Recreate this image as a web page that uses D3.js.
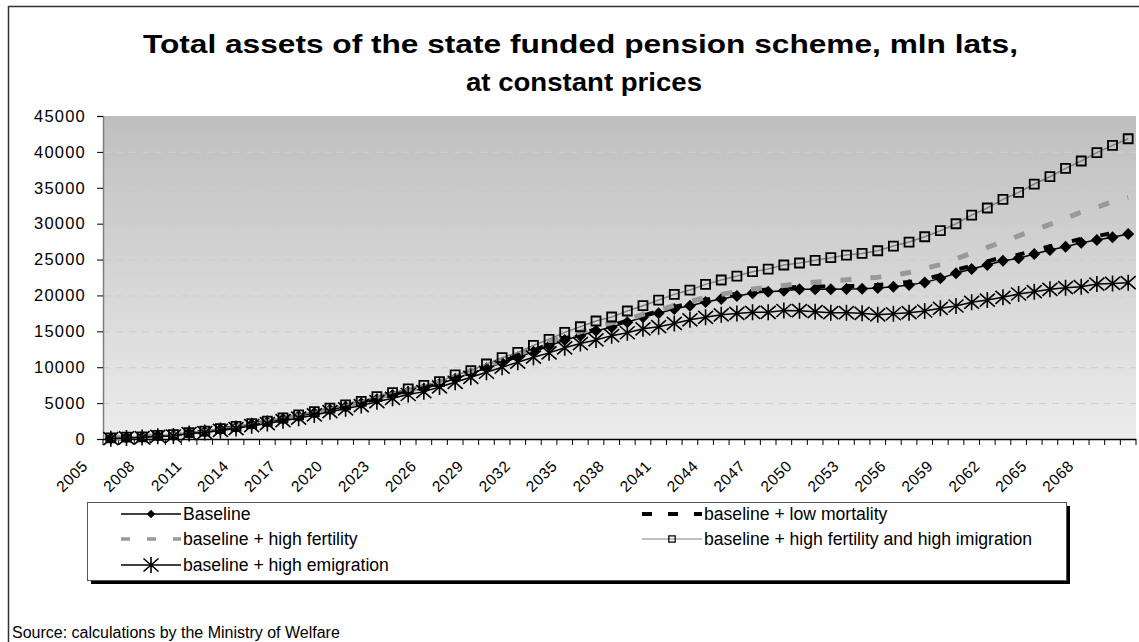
<!DOCTYPE html>
<html>
<head>
<meta charset="utf-8">
<script src="https://d3js.org/d3.v7.min.js"></script>
<style>
  body { margin: 0; background: #fff; }
  svg text { font-family: "Liberation Sans", Arial, sans-serif; fill: #000; }
</style>
</head>
<body>
<div id="chart"></div>
<script>
// anos 2005..2070
var years = d3.range(2005, 2071);
var yTicks = d3.range(0, 45001, 5000);

var baseline = [100, 200, 250, 450, 500, 850, 1020, 1350, 1630, 2040, 2370, 2790, 3160, 3620, 4090, 4500,
  4970, 5550, 6130, 6590, 7050, 7700, 8400, 9150, 9850, 10630, 11380, 12160, 12950, 13800, 14390, 15090,
  15560, 16260, 16950, 17510, 18110, 18570, 19080, 19500, 19920, 20290, 20500, 20660, 20850, 20850, 20880,
  20900, 20950, 21050, 21220, 21450, 21820, 22380, 23080, 23680, 24240, 24840, 25170, 25770, 26330, 26790,
  27350, 27720, 28100, 28560];
var lowMortality = [100, 200, 260, 460, 510, 860, 1040, 1370, 1660, 2070, 2410, 2830, 3210, 3680, 4160, 4580,
  5060, 5650, 6240, 6710, 7180, 7840, 8550, 9310, 10020, 10810, 11570, 12360, 13160, 14020, 14620, 15330,
  15810, 16520, 17220, 17790, 18400, 18870, 19390, 19820, 20250, 20630, 20850, 21020, 21220, 21230, 21270,
  21300, 21360, 21470, 21650, 21890, 22270, 22840, 23550, 24160, 24730, 25340, 25680, 26290, 26860, 27330,
  27900, 28280, 28670, 29100];
var highFertility = [100, 220, 280, 480, 540, 880, 1060, 1400, 1690, 2110, 2450, 2880, 3260, 3730, 4210, 4640,
  5130, 5720, 6320, 6800, 7280, 7960, 8680, 9460, 10190, 11000, 11780, 12590, 13420, 14300, 14930, 15660,
  16180, 16700, 17350, 17950, 18600, 19150, 19700, 20150, 20550, 20900, 21150, 21400, 21650, 21850, 22000,
  22200, 22350, 22550, 22800, 23200, 23750, 24300, 25100, 25900, 26700, 27500, 28300, 29100, 29900, 30750,
  31600, 32300, 33050, 33700];
var highFertImmig = [150, 250, 300, 500, 600, 900, 1100, 1450, 1750, 2150, 2500, 2950, 3350, 3800, 4300, 4750,
  5250, 5900, 6450, 6970, 7480, 7990, 8920, 9520, 10450, 11330, 12070, 13050, 13890, 14860, 15640, 16440,
  17000, 17830, 18570, 19360, 20150, 20750, 21540, 22150, 22700, 23310, 23680, 24240, 24520, 24890, 25260,
  25630, 25860, 26230, 26880, 27440, 28180, 29020, 29990, 31200, 32180, 33390, 34360, 35520, 36540, 37710,
  38730, 39890, 40910, 41830];
var highEmigration = [50, 150, 200, 380, 420, 750, 900, 1200, 1450, 1850, 2150, 2550, 2900, 3350, 3800, 4200,
  4650, 5200, 5670, 6200, 6600, 7250, 7900, 8600, 9300, 10000, 10700, 11400, 12000, 12700, 13300, 13800,
  14400, 14800, 15350, 15650, 16100, 16600, 16950, 17300, 17500, 17650, 17650, 17900, 17880, 17740, 17600,
  17600, 17510, 17300, 17450, 17600, 17830, 18200, 18530, 19040, 19360, 19740, 20200, 20520, 20850, 21080,
  21220, 21590, 21680, 21780];

var labels = ["Baseline", "baseline + low mortality", "baseline + high fertility",
  "baseline + high fertility and high imigration", "baseline + high emigration"];

var largura = 1139, altura = 642;
var plot = {left: 103, right: 1136, top: 116, bottom: 439};

var svg = d3.select("#chart").append("svg")
  .attr("width", largura).attr("height", altura);

// moldura externa
svg.append("path")
  .attr("d", "M8.5," + (altura + 5) + "V6.5H" + (largura + 5))
  .attr("fill", "none").attr("stroke", "#333").attr("stroke-width", 1.5);

// titulo (esticado na horizontal como no original)
svg.append("text")
  .attr("x", 143).attr("y", 53)
  .attr("textLength", 875).attr("lengthAdjust", "spacingAndGlyphs")
  .style("font-size", "25px").style("font-weight", "bold")
  .text("Total assets of the state funded pension scheme, mln lats,");
svg.append("text")
  .attr("x", 466).attr("y", 91)
  .attr("textLength", 236).attr("lengthAdjust", "spacingAndGlyphs")
  .style("font-size", "25px").style("font-weight", "bold")
  .text("at constant prices");

// fundo em gradiente
var grad = svg.append("defs").append("linearGradient")
  .attr("id", "bg").attr("x1", 0).attr("y1", 0).attr("x2", 0).attr("y2", 1);
grad.append("stop").attr("offset", "0%").attr("stop-color", "#bfbfbf");
grad.append("stop").attr("offset", "100%").attr("stop-color", "#ececec");

svg.append("rect")
  .attr("x", plot.left).attr("y", plot.top)
  .attr("width", plot.right - plot.left).attr("height", plot.bottom - plot.top)
  .attr("fill", "url(#bg)");

var x = d3.scaleBand().domain(years).range([plot.left, plot.right]);
var y = d3.scaleLinear().domain([0, 45000]).range([plot.bottom, plot.top]);

// grade
svg.append("g").selectAll("line")
  .data(yTicks.filter(d => d > 0 && d < 45000))
  .enter().append("line")
  .attr("x1", plot.left).attr("x2", plot.right)
  .attr("y1", d => y(d) + 0.5).attr("y2", d => y(d) + 0.5)
  .attr("stroke", "#cdcdcd").attr("stroke-width", 1)
  .attr("stroke-dasharray", "7,6");

// eixo y
var eixoY = svg.append("g")
  .attr("transform", "translate(" + plot.left + ",0)")
  .call(d3.axisLeft(y).tickValues(yTicks).tickSize(6).tickPadding(11).tickFormat(d3.format("d")));
eixoY.select(".domain").attr("stroke", "#808080").attr("stroke-width", 1.5);
eixoY.selectAll(".tick line").attr("stroke", "#000");
eixoY.selectAll("text")
  .style("font-size", "16.5px").style("letter-spacing", "1.2px")
  .style("font-family", "'Liberation Sans', Arial, sans-serif");

// eixo x
svg.append("line")
  .attr("x1", plot.left).attr("x2", plot.right)
  .attr("y1", plot.bottom + 0.5).attr("y2", plot.bottom + 0.5)
  .attr("stroke", "#000").attr("stroke-width", 1.5);
svg.append("g").selectAll("line")
  .data(years.concat([2071]))
  .enter().append("line")
  .attr("x1", d => d === 2071 ? plot.right : x(d))
  .attr("x2", d => d === 2071 ? plot.right : x(d))
  .attr("y1", plot.bottom).attr("y2", plot.bottom + 6)
  .attr("stroke", "#000");
svg.append("g").selectAll("text")
  .data(years.filter((d, i) => i % 3 === 0))
  .enter().append("text")
  .attr("text-anchor", "end")
  .attr("transform", d => "translate(" + (x(d) + x.bandwidth() / 2 - 22) + "," + (plot.bottom + 28) + ") rotate(-45)")
  .style("font-size", "15.5px").style("letter-spacing", "0.6px")
  .text(d => d);

// series
var cx = (d, i) => x(years[i]) + x.bandwidth() / 2;
var linha = d3.line().x(cx).y(d => y(d));

var series = [
  {nome: labels[0], dados: baseline, cor: "#000", largura: 1.5, traco: null, marca: "diamante"},
  {nome: labels[1], dados: lowMortality, cor: "#000", largura: 4, traco: "9,20", marca: null},
  {nome: labels[2], dados: highFertility, cor: "#999", largura: 5, traco: "11,19", marca: null},
  {nome: labels[3], dados: highFertImmig, cor: "#808080", largura: 1.5, traco: null, marca: "quadrado"},
  {nome: labels[4], dados: highEmigration, cor: "#000", largura: 1.5, traco: null, marca: "asterisco"}
];

var simbolos = {
  diamante: "M0,-6L6,0L0,6L-6,0Z",
  quadrado: "M-4.5,-4.5H4.5V4.5H-4.5Z",
  asterisco: "M0,-8V8M-7.5,-6.5L7.5,6.5M-7.5,6.5L7.5,-6.5"
};
function estiloMarca(sel, tipo) {
  sel.attr("d", simbolos[tipo]);
  if (tipo === "diamante") sel.attr("fill", "#000").attr("stroke", "none");
  if (tipo === "quadrado") sel.attr("fill", "none").attr("stroke", "#000").attr("stroke-width", 1.8);
  if (tipo === "asterisco") sel.attr("fill", "none").attr("stroke", "#000").attr("stroke-width", 1.6);
}

series.forEach(function(s) {
  var g = svg.append("g");
  g.append("path")
    .attr("d", linha(s.dados))
    .attr("fill", "none").attr("stroke", s.cor)
    .attr("stroke-width", s.largura)
    .attr("stroke-dasharray", s.traco);
  if (s.marca) {
    g.selectAll("path.m").data(s.dados).enter().append("path")
      .attr("class", "m")
      .attr("transform", (d, i) => "translate(" + cx(d, i) + "," + y(d) + ")")
      .call(estiloMarca, s.marca);
  }
});

// legenda
var leg = {x: 87, y: 502, w: 979, h: 78};
svg.append("rect").attr("x", leg.x + 4).attr("y", leg.y + 4)
  .attr("width", leg.w).attr("height", leg.h).attr("fill", "#000");
svg.append("rect").attr("x", leg.x + 0.5).attr("y", leg.y + 0.5)
  .attr("width", leg.w).attr("height", leg.h)
  .attr("fill", "#fff").attr("stroke", "#555").attr("stroke-width", 1);

var posLeg = [[121, 514], [642, 514], [121, 539], [642, 539], [121, 565]];
var tracoLeg = [null, "10,16", "9,17", null, null];
var largLeg = [1.5, 4, 3.5, 1, 1.5];
series.forEach(function(s, i) {
  var p = posLeg[i];
  svg.append("line")
    .attr("x1", p[0]).attr("x2", p[0] + 60)
    .attr("y1", p[1]).attr("y2", p[1])
    .attr("stroke", s.cor).attr("stroke-width", largLeg[i])
    .attr("stroke-dasharray", tracoLeg[i]);
  if (s.marca) {
    svg.append("path")
      .attr("transform", "translate(" + (p[0] + 30) + "," + p[1] + ")" + (s.marca === "asterisco" ? "" : " scale(0.7)"))
      .call(estiloMarca, s.marca);
  }
  svg.append("text")
    .attr("x", p[0] + 62).attr("y", p[1] + 6)
    .style("font-size", "17.6px")
    .text(s.nome);
});

// fonte
svg.append("text")
  .attr("x", 12).attr("y", 638)
  .style("font-size", "16px")
  .text("Source: calculations by the Ministry of Welfare");
</script>
</body>
</html>
